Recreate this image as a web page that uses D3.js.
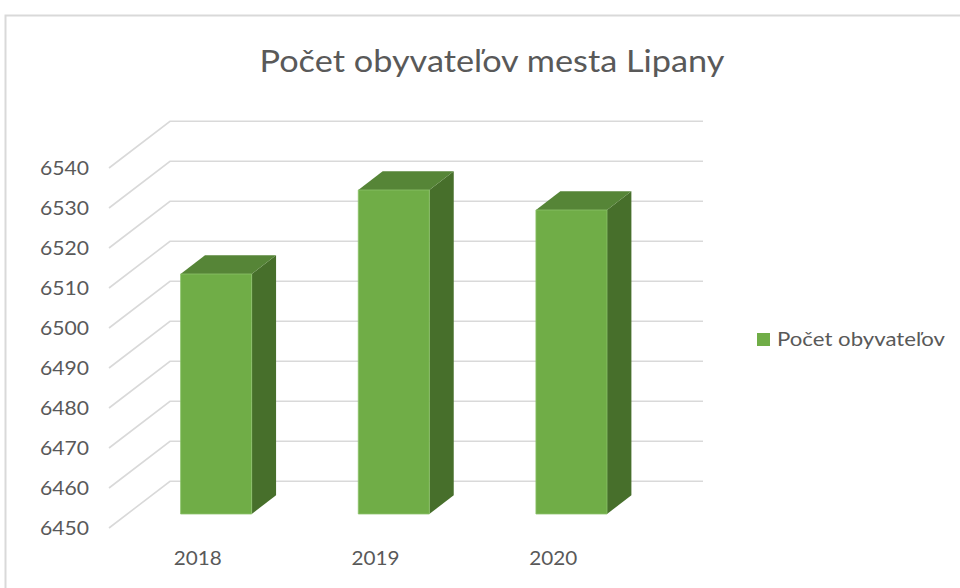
<!DOCTYPE html>
<html>
<head>
<meta charset="utf-8">
<script src="https://cdn.jsdelivr.net/npm/d3@7"></script>
<style>
  html, body { margin: 0; padding: 0; background: #fff; }
  svg { display: block; }
  text { font-family: Lato, "Open Sans", sans-serif; fill: #595959; }
</style>
</head>
<body>
<svg id="chart" width="960" height="588"></svg>
<script>
const title = "Počet obyvateľov mesta Lipany";
const seriesName = "Počet obyvateľov";
const categories = ["2018", "2019", "2020"];
const values = [6510, 6531, 6526];
const yTicks = [6450, 6460, 6470, 6480, 6490, 6500, 6510, 6520, 6530, 6540];

const svg = d3.select("#chart");

// frame
svg.append("rect").attr("x", 5.5).attr("y", 15.5).attr("width", 1000).attr("height", 1000)
  .attr("fill", "#fff").attr("stroke", "#d9d9d9").attr("stroke-width", 2);

// projection: front wall plane + depth offset
const depthDX = 61, depthDY = -46.7;
const depth = d3.scaleLinear().domain([0, 1]).range([0, 1]);
const y = d3.scaleLinear().domain([6450, 6540]).range([528, 168]);
const x = d3.scaleBand().domain(categories).range([109, 642]).paddingInner(0.6).paddingOuter(0.3);
const backRight = 703;

function P(px, py, d) { return [px + depthDX * depth(d), py + depthDY * depth(d)]; }

// gridlines: diagonal on side wall + horizontal on back wall
const grid = svg.append("g").attr("fill", "none").attr("stroke", "#d9d9d9").attr("stroke-width", 1.6);
yTicks.forEach(t => {
  const f = [109, y(t)];
  const b = P(109, y(t), 1);
  grid.append("path").attr("d", d3.line()([f, b, [backRight, b[1]]]));
});

// y labels
svg.append("g").selectAll("text").data(yTicks).join("text")
  .attr("x", 89).attr("y", d => y(d)).attr("dy", "0.36em")
  .attr("text-anchor", "end").style("font-size", "20px")
  .attr("textLength", 49).attr("lengthAdjust", "spacingAndGlyphs")
  .text(d => d);

// bars
const d0 = 0.3, d1 = 0.7;
const bars = svg.append("g");
categories.forEach((c, i) => {
  const x0 = x(c), x1 = x(c) + x.bandwidth();
  const yb = y(6450), yt = y(values[i]);
  const side = [P(x1, yt, d0), P(x1, yt, d1), P(x1, yb, d1), P(x1, yb, d0)];
  bars.append("path").attr("d", d3.line()(side) + "Z").attr("fill", "#476f2b");
  const top = [P(x0, yt, d0), P(x0, yt, d1), P(x1, yt, d1), P(x1, yt, d0)];
  bars.append("path").attr("d", d3.line()(top) + "Z").attr("fill", "#568537");
  const front = [P(x0, yt, d0), P(x1, yt, d0), P(x1, yb, d0), P(x0, yb, d0)];
  bars.append("path").attr("d", d3.line()(front) + "Z").attr("fill", "#70ad47")
    .attr("stroke", "#8cc16a").attr("stroke-width", 0.8);
});

// category labels
svg.append("g").selectAll("text").data(categories).join("text")
  .attr("x", d => x(d) + x.bandwidth() / 2)
  .attr("y", 558).attr("dy", "0.36em")
  .attr("text-anchor", "middle").style("font-size", "20px")
  .attr("textLength", 48).attr("lengthAdjust", "spacingAndGlyphs")
  .text(d => d);

// title
svg.append("text").attr("x", 492).attr("y", 72)
  .attr("text-anchor", "middle").style("font-size", "30px")
  .attr("textLength", 465).attr("lengthAdjust", "spacingAndGlyphs")
  .text(title);

// legend
const lg = svg.append("g").attr("transform", "translate(757,333)");
lg.append("rect").attr("width", 13).attr("height", 13).attr("fill", "#70ad47");
lg.append("text").attr("x", 20).attr("y", 6.5).attr("dy", "0.36em")
  .style("font-size", "19px")
  .attr("textLength", 168).attr("lengthAdjust", "spacingAndGlyphs")
  .text(seriesName);
</script>
</body>
</html>
